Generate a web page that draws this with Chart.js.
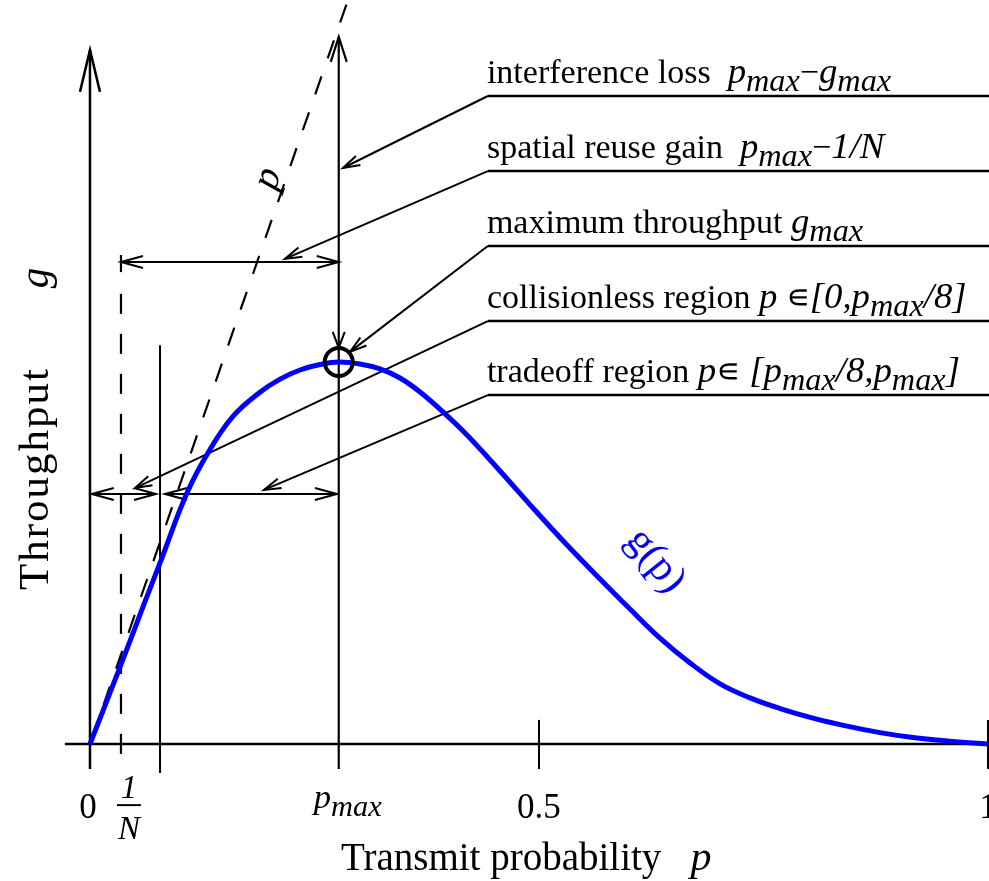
<!DOCTYPE html>
<html>
<head>
<meta charset="utf-8">
<script src="https://cdn.jsdelivr.net/npm/chart.js@4.4.0/dist/chart.umd.min.js"></script>
<style>
body { margin: 0; background: #fff; }
canvas { display: block; }
</style>
</head>
<body>
<canvas id="myChart" width="989" height="881"></canvas>
<script>
// g(p)
var pValues = [0, 0.0334, 0.059, 0.078, 0.108, 0.1336, 0.1592, 0.1893, 0.2116, 0.2339, 0.2561, 0.2773, 0.3007, 0.3229, 0.3452, 0.3675, 0.3931, 0.4198, 0.4566, 0.4933, 0.5312, 0.5679, 0.6013, 0.6347, 0.6682, 0.7016, 0.735, 0.7684, 0.8051, 0.843, 0.8797, 0.9165, 0.9543, 1.0];
var gValues = [0, 0.0297, 0.0529, 0.0699, 0.0969, 0.1137, 0.1265, 0.1358, 0.1409, 0.1444, 0.1465, 0.1475, 0.1467, 0.1448, 0.1413, 0.1359, 0.1282, 0.1193, 0.1054, 0.0911, 0.0768, 0.0637, 0.0521, 0.0409, 0.0313, 0.0232, 0.0178, 0.0137, 0.0100, 0.0069, 0.0044, 0.0025, 0.0012, 0];

// marked points on the p axis
var pMax = 0.277;
var gMax = 0.1475;
var invN = 0.0345;
var pBound = 0.078;
var tickValues = [0, invN, pBound, pMax, 0.5, 1];
var tickLabels = ['0', '1/N', '', 'p_max', '0.5', '1'];

// annotation texts
var labelTexts = [
    [['interference loss  ', 'r'], ['p', 'i'], ['max', 's'], ['\u2212', 'r'], ['g', 'i'], ['max', 's']],
    [['spatial reuse gain  ', 'r'], ['p', 'i'], ['max', 's'], ['\u2212', 'r'], ['1/N', 'i']],
    [['maximum throughput ', 'r'], ['g', 'i'], ['max', 's']],
    [['collisionless region ', 'r'], ['p', 'i'], [' \u220A', 'r'], ['[0,', 'i'], ['p', 'i'], ['max', 's'], ['/8]', 'i']],
    [['tradeoff region ', 'r'], ['p', 'i'], ['\u220A', 'r'], [' [', 'i'], ['p', 'i'], ['max', 's'], ['/8,', 'i'], ['p', 'i'], ['max', 's'], [']', 'i']]
];
// underline height and arrow target of each label (data units)
var labelLines = [0.2502, 0.2212, 0.1923, 0.1633, 0.1347];
var labelTargets = [[0.2817, 0.2224], [0.217, 0.1873], [0.2895, 0.1514], [0.0501, 0.0988], [0.1938, 0.0981]];

var FONT = '"Liberation Serif", "DejaVu Serif", serif';

function drawRuns(ctx, runs, x, y, size, align) {
    var parts = runs.map(function (r) {
        var sz = r[1] == 's' ? size * 0.95 : (r[1] == 'i' ? size * 1.08 : size);
        var font = (r[1] == 'r' ? '' : 'italic ') + sz + 'px ' + FONT;
        ctx.font = font;
        return { t: r[0], font: font, w: ctx.measureText(r[0]).width, dy: r[1] == 's' ? size * 0.24 : 0 };
    });
    var total = parts.reduce(function (a, b) { return a + b.w; }, 0);
    var cx = align == 'center' ? x - total / 2 : x;
    ctx.textAlign = 'left';
    ctx.textBaseline = 'alphabetic';
    parts.forEach(function (p) {
        ctx.font = p.font;
        ctx.fillText(p.t, cx, y + p.dy);
        cx += p.w;
    });
}

function line(ctx, x1, y1, x2, y2) {
    ctx.beginPath();
    ctx.moveTo(x1, y1);
    ctx.lineTo(x2, y2);
    ctx.stroke();
}

// open arrow head, tip at (tx,ty), coming from (fx,fy)
function head(ctx, tx, ty, fx, fy, len, half) {
    var a = Math.atan2(ty - fy, tx - fx);
    var bx = tx - Math.cos(a) * len, by = ty - Math.sin(a) * len;
    var nx = -Math.sin(a) * half, ny = Math.cos(a) * half;
    ctx.beginPath();
    ctx.moveTo(bx + nx, by + ny);
    ctx.lineTo(tx, ty);
    ctx.lineTo(bx - nx, by - ny);
    ctx.stroke();
}

var diagram = {
    id: 'diagram',
    beforeDatasetsDraw: function (chart) {
        var ctx = chart.ctx;
        var X = function (v) { return chart.scales.x.getPixelForValue(v); };
        var Y = function (v) { return chart.scales.y.getPixelForValue(v); };
        ctx.save();
        ctx.strokeStyle = '#000';
        ctx.fillStyle = '#000';
        ctx.lineCap = 'butt';

        // axes
        ctx.lineWidth = 2.5;
        line(ctx, X(-0.028), Y(0), X(1.002), Y(0));
        line(ctx, X(0), Y(-0.0097), X(0), Y(0.268));
        head(ctx, X(0), Y(0.268), X(0), Y(0), 42, 10);

        // ticks
        ctx.lineWidth = 2;
        line(ctx, X(0.5), Y(0.0093), X(0.5), Y(-0.0097));
        line(ctx, X(1), Y(0.0093), X(1), Y(-0.0097));
        line(ctx, X(pBound), Y(0.154), X(pBound), Y(-0.0112));
        ctx.lineWidth = 2.2;
        line(ctx, X(pMax), Y(-0.0097), X(pMax), Y(0.273));
        head(ctx, X(pMax), Y(0.273), X(pMax), Y(0), 25, 8);

        // 1/N dashed marker
        ctx.lineWidth = 2.2;
        line(ctx, X(invN), Y(0.1888), X(invN), Y(0.1822));
        ctx.setLineDash([20, 20]);
        line(ctx, X(invN), Y(0.1738), X(invN), Y(-0.0097));
        // dashed line g = p
        ctx.setLineDash([19, 19]);
        line(ctx, X(0.2855), Y(0.2855), X(0), Y(0));
        ctx.setLineDash([]);

        // horizontal double arrows
        ctx.lineWidth = 2;
        var spans = [[invN, pMax, 0.1861], [0.002, 0.0735, 0.0965], [0.0835, 0.275, 0.0965]];
        spans.forEach(function (s) {
            var y = Y(s[2]);
            line(ctx, X(s[0]), y, X(s[1]), y);
            head(ctx, X(s[0]), y, X(s[1]), y, 22, 6);
            head(ctx, X(s[1]), y, X(s[0]), y, 22, 6);
        });

        // labels with underline and leader arrows
        labelTexts.forEach(function (runs, i) {
            var uy = Y(labelLines[i]);
            var ux = X(0.443);
            ctx.lineWidth = 2.5;
            line(ctx, ux, uy, X(1.002), uy);
            ctx.lineWidth = 2;
            var t = labelTargets[i];
            line(ctx, ux, uy, X(t[0]), Y(t[1]));
            head(ctx, X(t[0]), Y(t[1]), ux, uy, 17, 5);
            drawRuns(ctx, runs, X(0.442), uy - 13, 34, 'left');
        });

        // tick labels
        tickValues.forEach(function (v, i) {
            var lab = tickLabels[i];
            if (lab == '') return;
            if (lab == '1/N') {
                var cx = X(v) + 8;
                ctx.font = 'italic 33px ' + FONT;
                ctx.textAlign = 'center';
                ctx.fillText('1', cx, Y(-0.021));
                ctx.fillText('N', cx, Y(-0.0367));
                ctx.lineWidth = 2;
                line(ctx, cx - 12, Y(-0.0236), cx + 12, Y(-0.0236));
            } else if (lab == 'p_max') {
                drawRuns(ctx, [['p', 'i'], ['max', 's']], X(v) + 9, Y(-0.0247), 32, 'center');
            } else {
                ctx.font = '35px ' + FONT;
                ctx.textAlign = 'center';
                ctx.fillText(lab, X(v) - (v == 0 ? 2 : 0), Y(-0.0286));
            }
        });

        // axis titles
        drawRuns(ctx, [['Transmit probability   ', 'r'], ['p', 'i']], 341, 870, 39, 'left');
        ctx.save();
        ctx.translate(48, 590);
        ctx.rotate(-Math.PI / 2);
        ctx.letterSpacing = '2px';
        drawRuns(ctx, [['Throughput', 'r']], 0, 0, 43, 'left');
        ctx.letterSpacing = '0px';
        drawRuns(ctx, [['g', 'i']], 312, 0, 38, 'center');
        ctx.restore();

        // label of the dashed line
        ctx.save();
        ctx.translate(X(0.197), Y(0.2185));
        ctx.rotate(-Math.atan(2.88));
        ctx.font = 'italic 40px ' + FONT;
        ctx.textAlign = 'center';
        ctx.fillText('p', 0, 12);
        ctx.restore();

        ctx.restore();
    },
    afterDatasetsDraw: function (chart) {
        var ctx = chart.ctx;
        var X = function (v) { return chart.scales.x.getPixelForValue(v); };
        var Y = function (v) { return chart.scales.y.getPixelForValue(v); };
        ctx.save();
        // maximum marker
        ctx.strokeStyle = '#000';
        ctx.lineWidth = 4;
        ctx.beginPath();
        ctx.arc(X(pMax), Y(gMax), 14, 0, Math.PI * 2);
        ctx.stroke();
        ctx.lineWidth = 2;
        head(ctx, X(pMax), Y(gMax) - 14, X(pMax), 0, 16, 6);

        // curve label
        ctx.translate(X(0.62), Y(0.068));
        ctx.rotate(0.9);
        ctx.fillStyle = '#0000ff';
        ctx.font = '42px ' + FONT;
        ctx.textAlign = 'center';
        ctx.fillText('g(p)', 0, 0);
        ctx.restore();
    }
};

var ctx = document.getElementById('myChart').getContext('2d');
var myChart = new Chart(ctx, {
    type: 'scatter',
    data: {
        datasets: [{
            label: 'g(p)',
            data: pValues.map(function (p, i) { return { x: p, y: gValues[i] }; }),
            showLine: true,
            borderColor: '#0000ff',
            borderWidth: 5,
            pointRadius: 0,
            tension: 0.4,
            fill: false
        }]
    },
    options: {
        responsive: false,
        animation: false,
        events: [],
        layout: { padding: 0 },
        plugins: {
            legend: { display: false },
            tooltip: { enabled: false }
        },
        scales: {
            x: { type: 'linear', display: false, min: -0.1002, max: 1.0011 },
            y: { type: 'linear', display: false, min: -0.0529, max: 0.28726 }
        }
    },
    plugins: [diagram]
});
</script>
</body>
</html>
